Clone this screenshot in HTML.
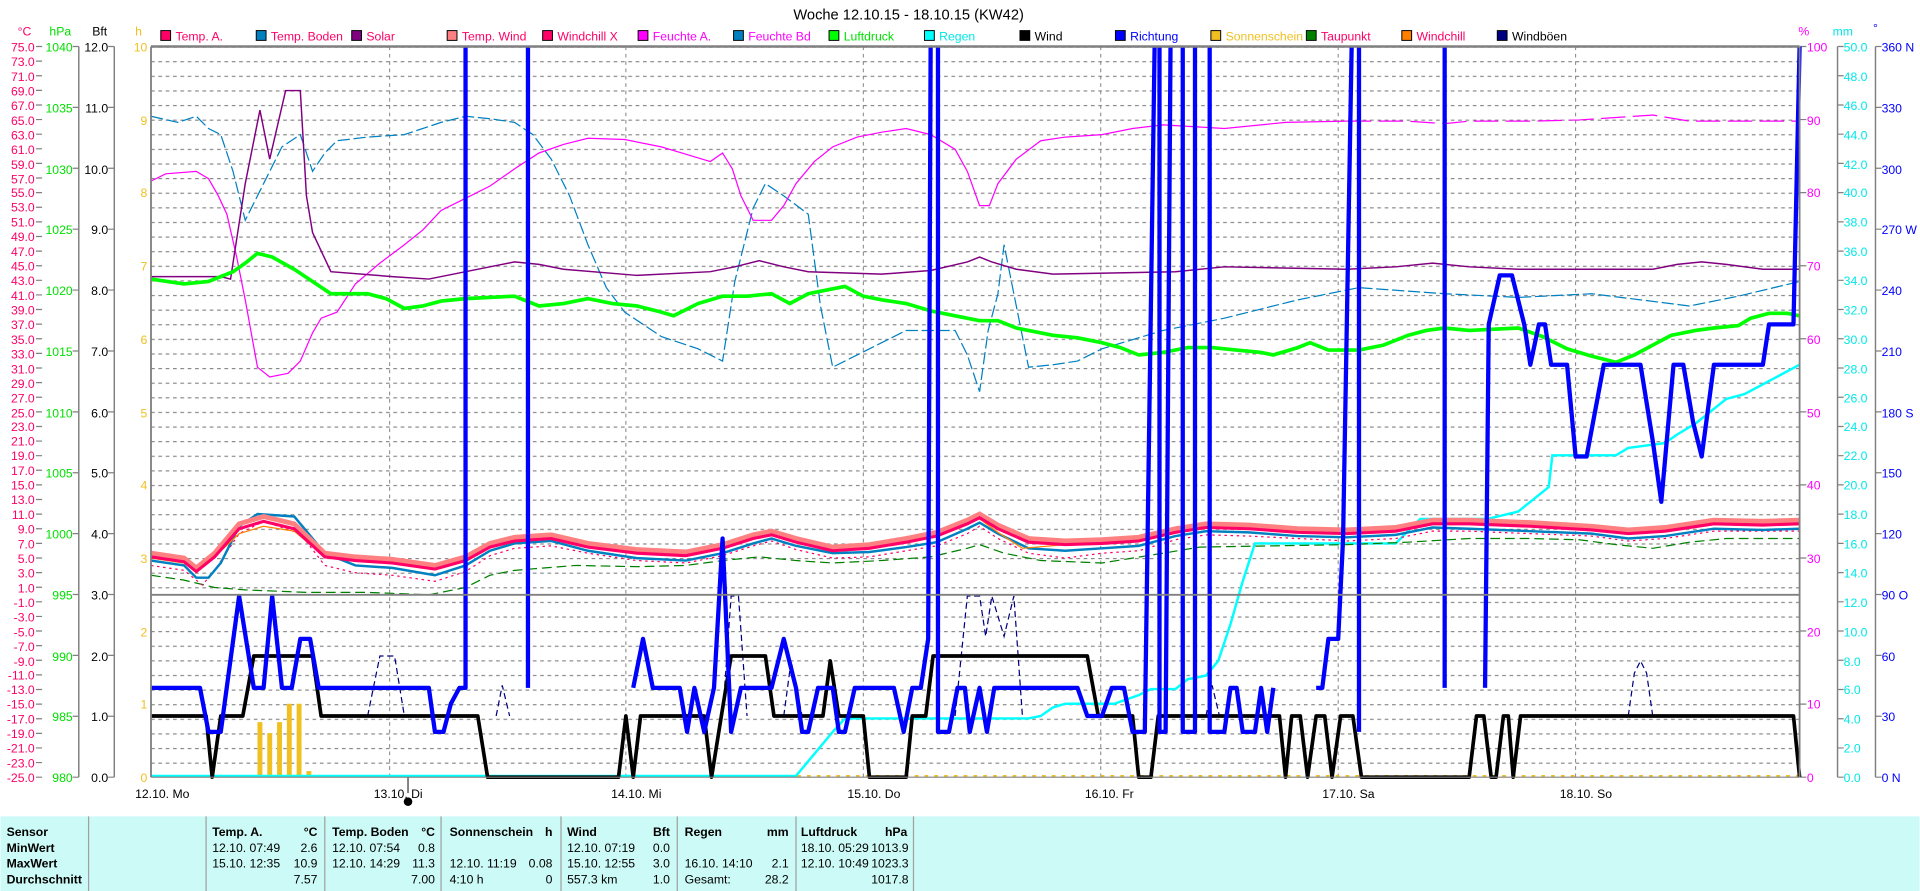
<!DOCTYPE html>
<html><head><meta charset="utf-8"><style>
html,body{margin:0;padding:0;background:#fff;}
svg{display:block;}
text{font-family:"Liberation Sans",sans-serif;font-size:10px;}
</style></head><body>
<svg width="1920" height="891" viewBox="0 0 1568 728" xmlns="http://www.w3.org/2000/svg">
<defs>
<pattern id="hg" patternUnits="userSpaceOnUse" x="123" y="38" width="6" height="11.94">
<line x1="0" y1="0.5" x2="3" y2="0.5" stroke="#808080" stroke-width="0.9"/>
</pattern>
</defs>
<rect width="1568" height="728" fill="#fff"/>
<text x="742" y="16" text-anchor="middle" style="font-size:12px">Woche 12.10.15 - 18.10.15 (KW42)</text>

<g stroke="#000" stroke-width="0.8">
<rect x="131" y="25" width="8" height="8" fill="#ff0066"/>
<rect x="209" y="25" width="8" height="8" fill="#0080c0"/>
<rect x="287" y="25" width="8" height="8" fill="#800080"/>
<rect x="365" y="25" width="8" height="8" fill="#ff8080"/>
<rect x="443" y="25" width="8" height="8" fill="#ff0066"/>
<rect x="521" y="25" width="8" height="8" fill="#ff00ff"/>
<rect x="599" y="25" width="8" height="8" fill="#0080c0"/>
<rect x="677" y="25" width="8" height="8" fill="#00ff00"/>
<rect x="755" y="25" width="8" height="8" fill="#00ffff"/>
<rect x="833" y="25" width="8" height="8" fill="#000"/>
<rect x="911" y="25" width="8" height="8" fill="#0000ff"/>
<rect x="989" y="25" width="8" height="8" fill="#f0c020"/>
<rect x="1067" y="25" width="8" height="8" fill="#008000"/>
<rect x="1145" y="25" width="8" height="8" fill="#ff8000"/>
<rect x="1223" y="25" width="8" height="8" fill="#000080"/>
</g>
<g>
<text x="143" y="33" fill="#ff0066">Temp. A.</text>
<text x="221" y="33" fill="#ff0066">Temp. Boden</text>
<text x="299" y="33" fill="#ff0066">Solar</text>
<text x="377" y="33" fill="#ff0066">Temp. Wind</text>
<text x="455" y="33" fill="#ff0066">Windchill X</text>
<text x="533" y="33" fill="#ff00ff">Feuchte A.</text>
<text x="611" y="33" fill="#ff00ff">Feuchte Bd</text>
<text x="689" y="33" fill="#00e000">Luftdruck</text>
<text x="767" y="33" fill="#00e8e8">Regen</text>
<text x="845" y="33" fill="#000">Wind</text>
<text x="923" y="33" fill="#0000ff">Richtung</text>
<text x="1001" y="33" fill="#f0c020">Sonnenschein</text>
<text x="1079" y="33" fill="#ff0066">Taupunkt</text>
<text x="1157" y="33" fill="#ff0066">Windchill</text>
<text x="1235" y="33" fill="#000">Windböen</text>
</g>

<text x="14" y="29" fill="#ff0066">°C</text>
<text x="40" y="29" fill="#00e000">hPa</text>
<text x="75" y="29" fill="#000">Bft</text>
<text x="110" y="29" fill="#f0c020">h</text>
<text x="1469" y="29" fill="#ff00ff">%</text>
<text x="1497" y="29" fill="#00e8e8">mm</text>
<text x="1530" y="26" fill="#0000ff">°</text>

<rect x="123" y="38" width="1347" height="597" fill="url(#hg)"/>
<g stroke="#808080" stroke-width="0.8" stroke-dasharray="3,3">
<line x1="318" y1="38" x2="318" y2="635"/><line x1="511" y1="38" x2="511" y2="635"/>
<line x1="705" y1="38" x2="705" y2="635"/><line x1="899" y1="38" x2="899" y2="635"/>
<line x1="1093" y1="38" x2="1093" y2="635"/><line x1="1287" y1="38" x2="1287" y2="635"/>
</g>

<g stroke="#808080">
<line x1="31.5" y1="37.5" x2="31.5" y2="640" stroke-width="5" stroke-dasharray="1 10.94"/>
<line x1="61.5" y1="37.5" x2="61.5" y2="640" stroke-width="5" stroke-dasharray="1 48.75"/>
<line x1="64" y1="38" x2="64" y2="635" stroke-width="1.2"/>
<line x1="90.5" y1="37.5" x2="90.5" y2="640" stroke-width="5" stroke-dasharray="1 48.75"/>
<line x1="93" y1="38" x2="93" y2="635" stroke-width="1.2"/>
<line x1="1473" y1="37.5" x2="1473" y2="640" stroke-width="5" stroke-dasharray="1 58.7"/>
<line x1="1501" y1="38" x2="1501" y2="635" stroke-width="1.2"/>
<line x1="1503.5" y1="37.5" x2="1503.5" y2="640" stroke-width="5" stroke-dasharray="1 22.88"/>
<line x1="1532" y1="38" x2="1532" y2="635" stroke-width="1.2"/>
<line x1="1534.5" y1="37.5" x2="1534.5" y2="640" stroke-width="5" stroke-dasharray="1 48.75"/>
</g>

<g fill="#ff0066" text-anchor="end">
<text x="28" y="42">75.0</text><text x="28" y="54">73.0</text><text x="28" y="66">71.0</text><text x="28" y="78">69.0</text><text x="28" y="90">67.0</text><text x="28" y="102">65.0</text><text x="28" y="114">63.0</text><text x="28" y="126">61.0</text><text x="28" y="138">59.0</text><text x="28" y="150">57.0</text><text x="28" y="161">55.0</text><text x="28" y="173">53.0</text><text x="28" y="185">51.0</text><text x="28" y="197">49.0</text><text x="28" y="209">47.0</text><text x="28" y="221">45.0</text><text x="28" y="233">43.0</text><text x="28" y="245">41.0</text><text x="28" y="257">39.0</text><text x="28" y="269">37.0</text><text x="28" y="281">35.0</text><text x="28" y="293">33.0</text><text x="28" y="305">31.0</text><text x="28" y="317">29.0</text><text x="28" y="329">27.0</text><text x="28" y="341">25.0</text><text x="28" y="352">23.0</text><text x="28" y="364">21.0</text><text x="28" y="376">19.0</text><text x="28" y="388">17.0</text><text x="28" y="400">15.0</text><text x="28" y="412">13.0</text><text x="28" y="424">11.0</text><text x="28" y="436">9.0</text><text x="28" y="448">7.0</text><text x="28" y="460">5.0</text><text x="28" y="472">3.0</text><text x="28" y="484">1.0</text><text x="28" y="496">-1.0</text><text x="28" y="508">-3.0</text><text x="28" y="520">-5.0</text><text x="28" y="532">-7.0</text><text x="28" y="544">-9.0</text><text x="28" y="555">-11.0</text><text x="28" y="567">-13.0</text><text x="28" y="579">-15.0</text><text x="28" y="591">-17.0</text><text x="28" y="603">-19.0</text><text x="28" y="615">-21.0</text><text x="28" y="627">-23.0</text><text x="28" y="639">-25.0</text>
</g>
<g fill="#00e000" text-anchor="end">
<text x="59" y="42">1040</text><text x="59" y="92">1035</text><text x="59" y="142">1030</text><text x="59" y="191">1025</text><text x="59" y="241">1020</text><text x="59" y="291">1015</text><text x="59" y="341">1010</text><text x="59" y="390">1005</text><text x="59" y="440">1000</text><text x="59" y="490">995</text><text x="59" y="540">990</text><text x="59" y="589">985</text><text x="59" y="639">980</text>
</g>
<g fill="#000" text-anchor="end">
<text x="88" y="42">12.0</text><text x="88" y="92">11.0</text><text x="88" y="142">10.0</text><text x="88" y="191">9.0</text><text x="88" y="241">8.0</text><text x="88" y="291">7.0</text><text x="88" y="341">6.0</text><text x="88" y="390">5.0</text><text x="88" y="440">4.0</text><text x="88" y="490">3.0</text><text x="88" y="540">2.0</text><text x="88" y="589">1.0</text><text x="88" y="639">0.0</text>
</g>
<g fill="#f0c020" text-anchor="end">
<text x="120" y="42">10</text><text x="120" y="102">9</text><text x="120" y="161">8</text><text x="120" y="221">7</text><text x="120" y="281">6</text><text x="120" y="341">5</text><text x="120" y="400">4</text><text x="120" y="460">3</text><text x="120" y="520">2</text><text x="120" y="579">1</text><text x="120" y="639">0</text>
</g>
<g fill="#ff00ff">
<text x="1476" y="42">100</text><text x="1476" y="102">90</text><text x="1476" y="161">80</text><text x="1476" y="221">70</text><text x="1476" y="281">60</text><text x="1476" y="341">50</text><text x="1476" y="400">40</text><text x="1476" y="460">30</text><text x="1476" y="520">20</text><text x="1476" y="579">10</text><text x="1476" y="639">0</text>
</g>
<g fill="#00e8e8">
<text x="1506" y="42">50.0</text><text x="1506" y="66">48.0</text><text x="1506" y="90">46.0</text><text x="1506" y="114">44.0</text><text x="1506" y="138">42.0</text><text x="1506" y="161">40.0</text><text x="1506" y="185">38.0</text><text x="1506" y="209">36.0</text><text x="1506" y="233">34.0</text><text x="1506" y="257">32.0</text><text x="1506" y="281">30.0</text><text x="1506" y="305">28.0</text><text x="1506" y="329">26.0</text><text x="1506" y="352">24.0</text><text x="1506" y="376">22.0</text><text x="1506" y="400">20.0</text><text x="1506" y="424">18.0</text><text x="1506" y="448">16.0</text><text x="1506" y="472">14.0</text><text x="1506" y="496">12.0</text><text x="1506" y="520">10.0</text><text x="1506" y="544">8.0</text><text x="1506" y="567">6.0</text><text x="1506" y="591">4.0</text><text x="1506" y="615">2.0</text><text x="1506" y="639">0.0</text>
</g>
<g fill="#0000ff">
<text x="1537" y="42">360 N</text><text x="1537" y="92">330</text><text x="1537" y="142">300</text><text x="1537" y="191">270 W</text><text x="1537" y="241">240</text><text x="1537" y="291">210</text><text x="1537" y="341">180 S</text><text x="1537" y="390">150</text><text x="1537" y="440">120</text><text x="1537" y="490">90 O</text><text x="1537" y="540">60</text><text x="1537" y="589">30</text><text x="1537" y="639">0 N</text>
</g>

<g fill="#000">
<text x="110" y="652">12.10.  Mo</text><text x="305" y="652">13.10.  Di</text><text x="499" y="652">14.10.  Mi</text><text x="692" y="652">15.10.  Do</text><text x="886" y="652">16.10.  Fr</text><text x="1080" y="652">17.10.  Sa</text><text x="1274" y="652">18.10.  So</text>
</g>
<line x1="333" y1="635" x2="333" y2="648" stroke="#000" stroke-width="0.8"/>
<circle cx="333" cy="655" r="3.5" fill="#000"/>

<g fill="#f0c020">
<rect x="210" y="590" width="4" height="45"/><rect x="218" y="599" width="4" height="36"/><rect x="226" y="590" width="4" height="45"/><rect x="234" y="575" width="4" height="60"/><rect x="242" y="575" width="4" height="60"/><rect x="250" y="630" width="4" height="5"/>
</g>
<line x1="123" y1="634" x2="1470" y2="634" stroke="#f0c020" stroke-width="1.5" stroke-dasharray="3,5"/>

<polyline fill="none" stroke="#0080c0" stroke-width="1" stroke-dasharray="10,3" points="123,95 145,100 160,95 170,105 180,110 190,140 200,180 215,150 230,120 245,110 255,140 265,125 275,115 300,112 330,110 360,100 380,95 400,97 420,100 435,110 450,130 465,160 480,200 495,235 510,255 540,275 570,285 590,295 600,230 615,170 625,150 640,160 660,175 670,250 680,300 690,295 700,290 720,280 740,270 780,270 790,290 800,320 807,270 815,240 820,200 830,250 840,300 860,298 880,295 900,285 950,270 1000,260 1060,245 1110,235 1180,240 1240,243 1300,240 1340,245 1380,250 1420,242 1470,230"/>
<polyline fill="none" stroke="#ff00ff" stroke-width="1" points="123,148 135,142 160,140 170,146 178,160 185,175 193,210 200,245 210,300 220,308 235,305 245,295 255,272 262,260 275,255 290,232 310,215 330,200 345,188 360,172 380,162 400,152 420,138 440,125 460,118 480,113 510,114 540,120 560,126 580,132 590,125 598,138 605,160 615,180 630,180 640,168 650,150 665,132 680,120 700,112 720,108 740,105 760,110 780,122 790,140 800,168 808,168 815,150 830,130 850,115 870,112 900,110 925,105 950,102 1000,105 1050,100 1100,99"/>
<polyline fill="none" stroke="#ff00ff" stroke-width="1" stroke-dasharray="20,6" points="1100,99 1150,99 1180,101 1200,99 1250,99 1290,98 1320,96 1350,94 1380,99 1470,99"/>
<polyline fill="none" stroke="#800080" stroke-width="1.2" points="123,226 180,226 188,228 200,150 212,90 220,130 233,74 245,74 250,160 255,190 270,222 320,226 350,228 380,222 400,218 420,214 440,216 460,220 520,225 580,222 600,218 620,213 640,218 660,222 720,224 760,221 790,214 800,210 810,214 830,220 860,224 960,222 1000,218 1100,220 1140,218 1170,215 1200,218 1240,220 1350,220 1370,216 1390,214 1410,216 1440,220 1470,220"/>
<polyline fill="none" stroke="#00ff00" stroke-width="3" points="123,228 150,232 170,230 190,222 200,215 210,207 222,210 240,220 255,230 270,240 300,240 315,244 330,252 345,250 360,246 380,244 420,242 440,250 460,248 480,244 500,248 520,250 540,255 550,258 570,248 590,242 610,242 630,240 645,248 660,240 680,236 690,234 705,242 720,245 740,248 760,254 780,258 800,262 815,262 830,268 860,274 880,276 900,280 915,284 930,290 950,288 970,284 990,284 1010,286 1030,288 1040,290 1060,284 1070,280 1085,286 1110,286 1130,282 1150,274 1165,270 1180,268 1200,270 1240,268 1260,275 1280,285 1300,291 1320,296 1335,290 1350,282 1365,274 1385,270 1400,268 1420,266 1430,260 1445,256 1460,256 1470,258"/>
<polyline fill="none" stroke="#00ffff" stroke-width="2" points="123,634 650,634 660,622 670,610 680,598 690,587 840,587 850,585 860,578 870,575 910,575 930,568 940,563 960,563 970,555 985,552 995,540 1005,510 1015,475 1025,444 1140,444 1150,434 1160,424 1215,424 1240,418 1250,410 1265,398 1268,372 1320,372 1330,366 1360,362 1370,355 1385,346 1400,334 1410,326 1425,322 1440,314 1455,306 1470,298"/>

<polyline fill="none" stroke="#008000" stroke-width="1" stroke-dasharray="8,4" points="123,470 150,474 175,480 200,482 250,484 300,484 350,486 380,480 400,470 420,466 470,462 520,463 560,462 590,458 620,455 650,458 680,460 720,458 760,455 790,448 800,445 820,452 850,458 900,460 950,452 980,447 1040,446 1100,445 1150,443 1200,440 1250,440 1290,441 1320,445 1350,448 1380,443 1410,440 1470,440"/>
<polyline fill="none" stroke="#ff0066" stroke-width="1" stroke-dasharray="2,3" points="123,462 150,466 165,478 175,466 195,436 215,426 245,436 265,462 290,468 320,470 355,475 380,467 400,454 420,448 450,446 480,452 520,458 560,460 590,454 615,446 630,442 650,449 680,456 710,455 740,450 765,446 790,436 800,430 815,440 840,452 870,456 900,452 930,450 960,441 985,437 1020,438 1100,442 1140,440 1170,434 1200,434 1250,436 1300,438 1330,442 1360,440 1400,434 1470,434"/>
<polyline fill="none" stroke="#0080c0" stroke-width="2" points="123,458 150,462 160,472 170,472 180,460 195,430 210,420 240,422 265,452 290,462 320,464 355,470 380,462 400,450 420,444 450,442 480,450 520,456 560,458 590,452 615,444 630,440 650,446 680,452 710,451 740,447 765,443 790,432 800,427 815,436 840,448 870,450 900,448 930,446 960,438 985,434 1020,435 1060,438 1100,439 1140,437 1170,431 1200,432 1250,434 1300,436 1330,440 1360,438 1400,432 1440,433 1470,432"/>
<polyline fill="none" stroke="#ff8000" stroke-width="1" points="123,456 150,460 160,466 175,455 195,436 215,430 240,434 265,455 290,458 320,460 355,465 380,458 400,447 420,442 450,440 480,447 520,452 560,454 590,448 615,440 630,437 650,443 680,450 710,448 740,443 765,438 790,428 800,424 815,435 835,448 870,445 900,444 930,442 960,435 985,431 1020,432 1100,436 1140,434 1170,428 1200,428 1250,430 1300,433 1330,436 1360,434 1400,428 1470,428"/>
<polyline fill="none" stroke="#ff8080" stroke-width="4" points="123,452 150,456 160,464 175,452 195,428 215,422 240,428 265,452 290,455 320,457 355,462 380,455 400,444 420,439 450,437 480,444 520,449 560,451 590,445 615,437 630,434 650,440 680,447 710,445 740,440 765,435 790,425 800,420 815,429 840,440 870,442 900,441 930,439 960,432 985,428 1020,429 1060,432 1100,433 1140,431 1170,425 1200,425 1250,427 1300,430 1330,433 1360,431 1400,425 1440,426 1470,425"/>
<polyline fill="none" stroke="#ff0066" stroke-width="2.5" points="123,455 150,459 160,467 175,455 195,432 215,426 240,432 265,455 290,458 320,460 355,465 380,458 400,447 420,442 450,440 480,447 520,452 560,454 590,448 615,440 630,437 650,443 680,450 710,448 740,443 765,438 790,428 800,423 815,432 840,443 870,445 900,444 930,442 960,435 985,431 1020,432 1060,435 1100,436 1140,434 1170,428 1200,428 1250,430 1300,433 1330,436 1360,434 1400,428 1440,429 1470,428"/>

<g fill="none" stroke="#000080" stroke-width="1" stroke-dasharray="5,3">
<polyline points="245,536 255,536 262,585"/>
<polyline points="300,585 310,536 322,536 330,585"/>
<polyline points="405,585 410,560 416,585"/>
<polyline points="590,585 597,487 603,487 610,585"/>
<polyline points="640,585 646,540 655,585"/>
<polyline points="780,585 790,487 800,487 805,520 810,487 820,520 828,487 835,585"/>
<polyline points="985,585 990,560 996,585"/>
<polyline points="1330,585 1335,550 1340,540 1345,550 1350,585"/>
</g>

<polyline fill="none" stroke="#000" stroke-width="3" stroke-linejoin="round" points="123,585 168,585 173,635 180,585 198,585 207,536 255,536 262,585 390,585 398,635 505,635 511,585 517,635 523,585 575,585 581,635 589,585 597,536 625,536 632,585 672,585 678,540 685,585 705,585 710,635 740,635 745,585 756,585 762,536 888,536 897,585 925,585 930,635 940,635 946,585 1045,585 1050,635 1055,585 1062,585 1068,635 1075,585 1082,585 1088,635 1095,585 1105,585 1112,635 1200,635 1206,585 1212,585 1218,635 1222,635 1228,585 1232,585 1236,635 1242,585 1465,585 1470,635"/>

<g fill="none" stroke="#0000ff" stroke-width="3.5" stroke-linejoin="round">
<polyline points="123,562 163,562 170,598 180,598 195,487 207,562 215,562 222,487 230,562 238,562 245,522 253,522 260,562 350,562 355,598 362,598 368,575 375,562 380,562 380,38"/>
<polyline points="431,38 431,562"/>
<polyline points="517,562 525,522 533,562 555,562 561,598 567,562 575,598 583,562 590,440 597,598 605,562 630,562 640,522 650,562 655,598 660,598 668,562 680,562 685,598 690,598 698,562 730,562 738,598 745,562 752,562 758,522 760,38"/>
<polyline points="766,38 766,598 775,598 782,562 788,562 792,598 800,562 806,598 812,562 880,562 888,585 900,585 908,562 918,562 925,598 935,598 943,38"/>
<polyline points="947,38 947,598 952,598 956,38"/>
<polyline points="966,38 966,598 976,598 976,38"/>
<polyline points="988,38 988,598 1000,598 1005,562 1010,562 1015,598 1025,598 1030,562 1035,598 1040,562"/>
<polyline points="1075,562 1080,562 1085,522 1093,522 1097,440 1104,38"/>
<polyline points="1110,38 1110,598"/>
<polyline points="1180,38 1180,562"/>
<polyline points="1213,562 1216,265 1225,225 1235,225 1245,265 1250,298 1257,265 1262,265 1267,298 1280,298 1287,373 1296,373 1310,298 1340,298 1350,360 1357,410 1367,298 1375,298 1383,345 1390,373 1400,298 1440,298 1445,265 1465,265 1470,38"/>
</g>

<g stroke="#808080" fill="none">
<line x1="123" y1="38" x2="1470" y2="38" stroke-width="2"/>
<line x1="123" y1="38" x2="123" y2="635" stroke-width="1.5"/>
<line x1="1470" y1="38" x2="1470" y2="635" stroke-width="1.5"/>
<line x1="123" y1="486" x2="1470" y2="486" stroke-width="1.5"/>
<line x1="123" y1="635" x2="1470" y2="635" stroke-width="1"/>
</g>

<rect x="0" y="667" width="1568" height="61" fill="#ccfaf6"/>
<g stroke="#a0a0a0" stroke-width="1">
<line x1="72" y1="667" x2="72" y2="728"/><line x1="168" y1="667" x2="168" y2="728"/><line x1="265" y1="667" x2="265" y2="728"/><line x1="360" y1="667" x2="360" y2="728"/><line x1="458" y1="667" x2="458" y2="728"/><line x1="553" y1="667" x2="553" y2="728"/><line x1="650" y1="667" x2="650" y2="728"/><line x1="746" y1="667" x2="746" y2="728"/>
</g>
<g fill="#000" style="font-size:8.5px">
<text x="5" y="683" font-weight="bold">Sensor</text>
<text x="5" y="696" font-weight="bold">MinWert</text>
<text x="5" y="709" font-weight="bold">MaxWert</text>
<text x="5" y="722" font-weight="bold">Durchschnitt</text>
<text x="173" y="683" font-weight="bold">Temp. A.</text><text x="259" y="683" text-anchor="end" font-weight="bold">°C</text>
<text x="173" y="696">12.10. 07:49</text><text x="259" y="696" text-anchor="end">2.6</text>
<text x="173" y="709">15.10. 12:35</text><text x="259" y="709" text-anchor="end">10.9</text>
<text x="259" y="722" text-anchor="end">7.57</text>
<text x="271" y="683" font-weight="bold">Temp. Boden</text><text x="355" y="683" text-anchor="end" font-weight="bold">°C</text>
<text x="271" y="696">12.10. 07:54</text><text x="355" y="696" text-anchor="end">0.8</text>
<text x="271" y="709">12.10. 14:29</text><text x="355" y="709" text-anchor="end">11.3</text>
<text x="355" y="722" text-anchor="end">7.00</text>
<text x="367" y="683" font-weight="bold">Sonnenschein</text><text x="451" y="683" text-anchor="end" font-weight="bold">h</text>
<text x="367" y="709">12.10. 11:19</text><text x="451" y="709" text-anchor="end">0.08</text>
<text x="367" y="722">4:10 h</text><text x="451" y="722" text-anchor="end">0</text>
<text x="463" y="683" font-weight="bold">Wind</text><text x="547" y="683" text-anchor="end" font-weight="bold">Bft</text>
<text x="463" y="696">12.10. 07:19</text><text x="547" y="696" text-anchor="end">0.0</text>
<text x="463" y="709">15.10. 12:55</text><text x="547" y="709" text-anchor="end">3.0</text>
<text x="463" y="722">557.3 km</text><text x="547" y="722" text-anchor="end">1.0</text>
<text x="559" y="683" font-weight="bold">Regen</text><text x="644" y="683" text-anchor="end" font-weight="bold">mm</text>
<text x="559" y="709">16.10. 14:10</text><text x="644" y="709" text-anchor="end">2.1</text>
<text x="559" y="722">Gesamt:</text><text x="644" y="722" text-anchor="end">28.2</text>
<text x="654" y="683" font-weight="bold">Luftdruck</text><text x="741" y="683" text-anchor="end" font-weight="bold">hPa</text>
<text x="654" y="696">18.10. 05:29</text><text x="742" y="696" text-anchor="end">1013.9</text>
<text x="654" y="709">12.10. 10:49</text><text x="742" y="709" text-anchor="end">1023.3</text>
<text x="742" y="722" text-anchor="end">1017.8</text>
</g>
</svg>
</body></html>
